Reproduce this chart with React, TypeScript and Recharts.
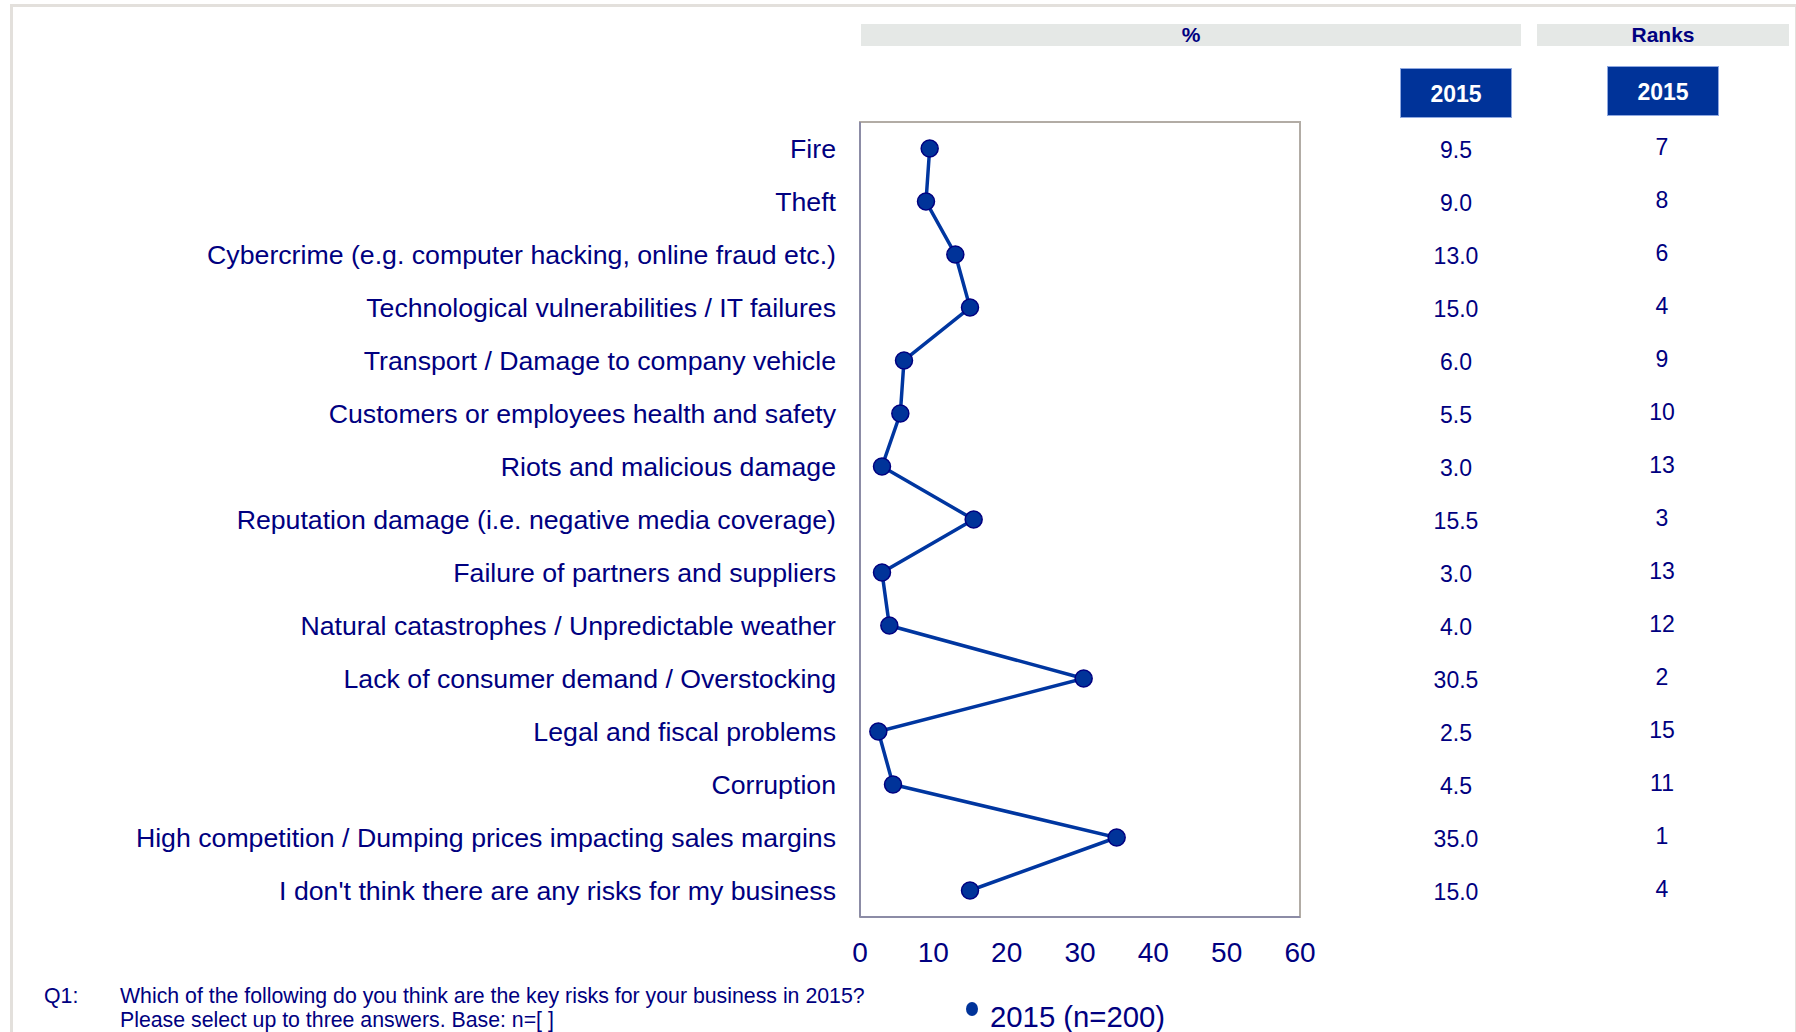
import React from 'react';
import {
  LineChart,
  Line,
  XAxis,
  YAxis,
  ReferenceArea,
  Legend,
} from 'recharts';

const categories = [
  'Fire',
  'Theft',
  'Cybercrime (e.g. computer hacking, online fraud etc.)',
  'Technological vulnerabilities / IT failures',
  'Transport / Damage to company vehicle',
  'Customers or employees health and safety',
  'Riots and malicious damage',
  'Reputation damage (i.e. negative media coverage)',
  'Failure of partners and suppliers',
  'Natural catastrophes / Unpredictable weather',
  'Lack of consumer demand / Overstocking',
  'Legal and fiscal problems',
  'Corruption',
  'High competition / Dumping prices impacting sales margins',
  "I don't think there are any risks for my business",
];

const share2015 = [9.5, 9.0, 13.0, 15.0, 6.0, 5.5, 3.0, 15.5, 3.0, 4.0, 30.5, 2.5, 4.5, 35.0, 15.0];
const ranks2015 = [7, 8, 6, 4, 9, 10, 13, 3, 13, 12, 2, 15, 11, 1, 4];
const xTicks = [0, 10, 20, 30, 40, 50, 60];

const NAVY = '#000080';
const BLUE = '#003399';
const FONT = '"Liberation Sans", Arial, Helvetica, sans-serif';

// x positions of the two table columns on the right
const VALUE_COL_X = 1456;
const RANK_COL_X = 1662;

const data = categories.map((name, i) => ({
  name,
  value: share2015[i],
  rank: ranks2015[i],
}));

/**
 * Category tick: label on the left, plus the % value and rank
 * columns drawn on the same row.
 */
function RowTick(props: any) {
  const { x, y, payload } = props;
  const row = data[payload.index];
  return (
    <g>
      <text x={x - 24} y={y} dy="0.35em" textAnchor="end" fontSize={26.7} fill={NAVY} fontFamily={FONT}>
        {payload.value}
      </text>
      <text x={VALUE_COL_X} y={y + 1} dy="0.35em" textAnchor="middle" fontSize={23} fill={NAVY} fontFamily={FONT}>
        {row ? row.value.toFixed(1) : ''}
      </text>
      <text x={RANK_COL_X} y={y - 1.5} dy="0.35em" textAnchor="middle" fontSize={23} fill={NAVY} fontFamily={FONT}>
        {row ? row.rank : ''}
      </text>
    </g>
  );
}

function LegendContent() {
  return (
    <div style={{ display: 'flex', alignItems: 'center', fontFamily: FONT, color: NAVY }}>
      <span
        style={{
          display: 'inline-block',
          width: 12,
          height: 14,
          borderRadius: '50%',
          background: BLUE,
          marginRight: 12,
          marginTop: -16,
        }}
      />
      <span style={{ fontSize: 29.3 }}>2015 (n=200)</span>
    </div>
  );
}

const headerBar: React.CSSProperties = {
  position: 'absolute',
  top: 24,
  height: 22,
  background: '#e5e8e6',
  color: NAVY,
  fontWeight: 'bold',
  fontSize: 21,
  lineHeight: '22px',
  textAlign: 'center',
};

const yearBox: React.CSSProperties = {
  position: 'absolute',
  width: 112,
  height: 50,
  background: BLUE,
  color: '#fff',
  fontWeight: 'bold',
  fontSize: 23,
  lineHeight: '50px',
  textAlign: 'center',
  boxSizing: 'border-box',
  border: '1px solid #8fa8e0',
};

export default function App() {
  return (
    <div
      style={{
        position: 'absolute',
        left: 0,
        top: 0,
        width: 1796,
        height: 1032,
        background: '#fff',
        fontFamily: FONT,
        overflow: 'hidden',
      }}
    >
      {/* outer frame */}
      <div
        style={{
          position: 'absolute',
          left: 10,
          top: 4,
          width: 1782,
          height: 1040,
          border: '3px solid #e3e0dc',
        }}
      />

      <div style={{ ...headerBar, left: 861, width: 660 }}>%</div>
      <div style={{ ...headerBar, left: 1537, width: 252 }}>Ranks</div>
      <div style={{ ...yearBox, left: 1400, top: 68 }}>2015</div>
      <div style={{ ...yearBox, left: 1607, top: 66 }}>2015</div>

      <div style={{ position: 'absolute', left: 0, top: 0 }}>
        <LineChart
          width={1796}
          height={1032}
          data={data}
          layout="vertical"
          margin={{ top: 122, right: 496, bottom: 85, left: 0 }}
        >
          <ReferenceArea x1={0} x2={60} fill="none" stroke="#b2aca5" strokeWidth={2} />
          <XAxis
            type="number"
            domain={[0, 60]}
            ticks={xTicks}
            interval={0}
            height={30}
            tickLine={false}
            tickSize={0}
            tickMargin={25}
            axisLine={{ stroke: '#8c8ca6', strokeWidth: 2 }}
            tick={{ fontSize: 28, fill: NAVY, fontFamily: FONT }}
          />
          <YAxis
            type="category"
            dataKey="name"
            scale="band"
            width={860}
            interval={0}
            tickLine={false}
            tickSize={0}
            tickMargin={0}
            axisLine={{ stroke: '#8c8ca6', strokeWidth: 2 }}
            tick={<RowTick />}
          />
          <Line
            type="linear"
            dataKey="value"
            stroke="#0036a0"
            strokeWidth={3.5}
            dot={{ r: 8.5, fill: BLUE, stroke: NAVY, strokeWidth: 1.5 }}
            activeDot={false}
            isAnimationActive={false}
          />
          <Legend
            layout="horizontal"
            align="center"
            verticalAlign="middle"
            content={<LegendContent />}
            wrapperStyle={{ top: 1000, left: 966, width: 'auto', height: 'auto' }}
          />
        </LineChart>
      </div>

      {/* question footnote */}
      <div style={{ position: 'absolute', left: 44, top: 984, fontSize: 21.3, color: NAVY, lineHeight: '24px' }}>
        Q1:
      </div>
      <div style={{ position: 'absolute', left: 120, top: 984, fontSize: 21.3, color: NAVY, lineHeight: '24px' }}>
        Which of the following do you think are the key risks for your business in 2015?
        <br />
        Please select up to three answers. Base: n=[ ]
      </div>
    </div>
  );
}
